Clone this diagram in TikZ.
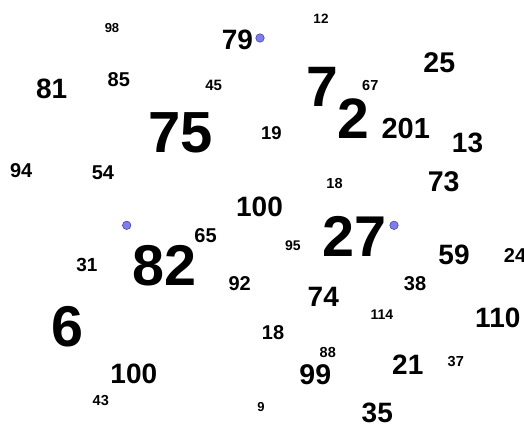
\documentclass[tikz,border=0pt]{standalone}
\usepackage{fontspec}
\setmainfont{Liberation Sans}
\definecolor{dotfill}{RGB}{125,125,240}
\definecolor{dotline}{RGB}{60,60,150}
\tikzset{
  num/.style={inner sep=0pt, font=\bfseries\fontsize{#1}{#1}\selectfont},
  dot/.style={circle, fill=dotfill, draw=dotline, line width=0.5pt, minimum size=8.5pt, inner sep=0pt}
}
\begin{document}
\begin{tikzpicture}[x=1pt,y=-1pt]
\useasboundingbox (0,0) rectangle (524,424);
\node[num=13] (n98) at (112,28) {98};
\node[num=28] (n79) at (237.5,40.3) {79};
\node[dot] (d1) at (260,38) {};
\node[num=13.5] (n12) at (321,19.2) {12};
\node[num=28] (n81) at (51.7,88.8) {81};
\node[num=20] (n85) at (118.8,80) {85};
\node[num=15] (n45) at (213.7,85.3) {45};
\node[num=58] (n75) at (180.3,132.8) {75};
\node[num=20] (n94) at (21.2,170.8) {94};
\node[num=20] (n54) at (103,172.5) {54};
\node[num=57] (n7) at (322.8,86.7) {7};
\node[num=14.5] (n67) at (370.3,85.3) {67};
\node[num=57] (n2) at (353.3,118.8) {2};
\node[num=28.5] (n25) at (439.3,62.2) {25};
\node[num=18.5] (n19) at (271.3,132.7) {19};
\node[num=29] (n201) at (405.7,128.3) {201};
\node[num=28] (n13) at (467.5,143) {13};
\node[num=14.5] (n18a) at (334.5,183.8) {18};
\node[num=28.5] (n73) at (443.7,182.2) {73};
\node[num=28] (n100a) at (259.5,206.7) {100};
\node[dot] (d2) at (126.7,225.3) {};
\node[num=20] (n65) at (205.5,235.8) {65};
\node[num=19] (n31) at (87,265) {31};
\node[num=57.5] (n82) at (164.3,265.2) {82};
\node[num=20] (n92) at (239.7,283.7) {92};
\node[num=57.5] (n6) at (67.5,326.2) {6};
\node[num=28] (n100b) at (133.8,374) {100};
\node[num=14.5] (n43) at (100.8,400.7) {43};
\node[num=13] (n9) at (261,407) {9};
\node[num=57.5] (n27) at (354.7,236.8) {27};
\node[dot] (d3) at (394,225.3) {};
\node[num=14] (n95) at (292.8,245.3) {95};
\node[num=28] (n59) at (454,255) {59};
\node[num=20] (n24) at (515,256) {24};
\node[num=20] (n38) at (415,283.5) {38};
\node[num=28] (n74) at (323.3,297.3) {74};
\node[num=14] (n114) at (381.8,315) {114};
\node[num=28] (n110) at (497.8,317.8) {110};
\node[num=20] (n18b) at (273,332.8) {18};
\node[num=14.5] (n88) at (327.8,352.3) {88};
\node[num=28.5] (n99) at (315.3,374.2) {99};
\node[num=28] (n21) at (407.8,365) {21};
\node[num=14.5] (n37) at (455.8,361.5) {37};
\node[num=28] (n35) at (377.3,412.8) {35};
\end{tikzpicture}
\end{document}
